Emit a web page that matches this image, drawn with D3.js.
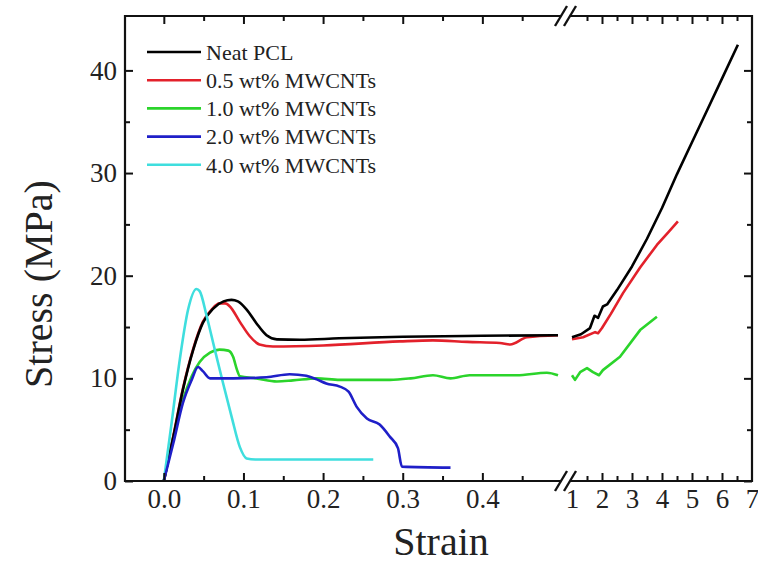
<!DOCTYPE html>
<html lang="en">
<head>
<meta charset="utf-8">
<script src="https://d3js.org/d3.v7.min.js"></script>
<style>
    body { margin: 0; background: #fff; }
    text { font-family: "Liberation Serif", "Times New Roman", serif; fill: #222; }
</style>
</head>
<body>
<div id="chart"></div>
<script>
    // series names and colours
    const names = ["Neat PCL", "0.5 wt% MWCNTs", "1.0 wt% MWCNTs", "2.0 wt% MWCNTs", "4.0 wt% MWCNTs"];
    const colors = ["#000000", "#e3212b", "#2bd42b", "#1f1fc8", "#3fdede"];

    // [strain, stress MPa] before the axis break
    const neatLow = [[0,0],[0.012,4.3],[0.024,8.9],[0.037,12.8],[0.049,15.4],[0.062,16.8],[0.075,17.5],[0.085,17.65],[0.093,17.5],[0.104,16.7],[0.116,15.4],[0.129,14.2],[0.142,13.8],[0.171,13.76],[0.22,13.9],[0.3,14.05],[0.4,14.15],[0.495,14.2]];
    const cnt05Low = [[0,0],[0.012,4.4],[0.024,9.0],[0.037,12.9],[0.049,15.5],[0.06,16.7],[0.07,17.3],[0.077,17.3],[0.083,17.0],[0.0955,15.5],[0.108,14.1],[0.12,13.3],[0.137,13.1],[0.2,13.2],[0.296,13.6],[0.338,13.7],[0.381,13.55],[0.422,13.45],[0.435,13.3],[0.456,14.0],[0.495,14.2]];
    const cnt10Low = [[0,0],[0.012,4.3],[0.024,7.9],[0.035,10.2],[0.045,11.6],[0.058,12.5],[0.07,12.8],[0.081,12.7],[0.087,12.1],[0.092,10.8],[0.0955,10.2],[0.116,10.0],[0.142,9.7],[0.162,9.8],[0.192,10.0],[0.221,9.85],[0.284,9.85],[0.31,10.0],[0.338,10.3],[0.36,10.0],[0.384,10.3],[0.401,10.3],[0.443,10.3],[0.481,10.55],[0.495,10.3]];
    const cnt20Low = [[0,0],[0.012,3.7],[0.024,7.6],[0.035,9.85],[0.043,11.1],[0.049,10.7],[0.058,10.0],[0.087,10.0],[0.129,10.1],[0.158,10.4],[0.179,10.25],[0.192,9.9],[0.204,9.5],[0.221,9.2],[0.232,8.7],[0.242,7.25],[0.255,6.1],[0.271,5.5],[0.284,4.3],[0.294,3.2],[0.299,1.4],[0.36,1.3]];
    const cnt40Low = [[0,0],[0.0097,5.6],[0.02,11.8],[0.0305,16.7],[0.041,18.7],[0.045,18.5],[0.054,16.0],[0.064,12.8],[0.0745,9.5],[0.085,6.3],[0.0955,3.3],[0.104,2.2],[0.115,2.1],[0.263,2.1]];

    // [strain, stress MPa] after the axis break
    const neatHigh = [[1.0,14.0],[1.3,14.3],[1.6,14.9],[1.75,16.1],[1.87,15.9],[2.03,17.0],[2.17,17.2],[2.5,18.6],[3.0,20.9],[3.5,23.6],[4.0,26.6],[4.5,29.9],[5.0,33.0],[5.5,36.1],[6.0,39.2],[6.53,42.5]];
    const cnt05High = [[1.0,13.8],[1.37,14.0],[1.77,14.5],[1.87,14.4],[2.0,14.9],[2.3,16.3],[2.7,18.3],[3.27,20.8],[3.83,23.0],[4.2,24.2],[4.53,25.3]];
    const cnt10High = [[1.0,10.3],[1.1,9.85],[1.27,10.6],[1.5,11.0],[1.7,10.6],[1.9,10.3],[2.03,10.8],[2.6,12.1],[3.27,14.7],[3.83,16.0]];

    const lowData = [neatLow, cnt05Low, cnt10Low, cnt20Low, cnt40Low];
    const highData = [neatHigh, cnt05High, cnt10High, [], []];

    // ticks
    const yMajor = [0, 10, 20, 30, 40];
    const yMinor = [5, 15, 25, 35];
    const xLowMajor = [0.0, 0.1, 0.2, 0.3, 0.4];
    const xLowMinor = [0.05, 0.15, 0.25, 0.35, 0.45];
    const xHighMajor = [1, 2, 3, 4, 5, 6, 7];
    const xHighMinor = [1.5, 2.5, 3.5, 4.5, 5.5, 6.5];

    const W = 758, H = 564;
    const mLeft = 125, mRight = 752, mTop = 16, mBottom = 481;
    const breakA = 562, breakB = 572;

    const svg = d3.select("#chart").append("svg")
        .attr("width", W).attr("height", H);

    const xLow = d3.scaleLinear().domain([-0.05, 0.5]).range([mLeft - 1, breakA]);
    const xHigh = d3.scaleLinear().domain([1, 7]).range([breakB, mRight]);
    const y = d3.scaleLinear().domain([0, 45.3]).range([mBottom, mTop]);

    // curves
    const lineLow = d3.line().x(d => xLow(d[0])).y(d => y(d[1])).curve(d3.curveMonotoneX);
    const lineHigh = d3.line().x(d => xHigh(d[0])).y(d => y(d[1]));

    const order = [2, 1, 0, 4, 3];
    order.forEach(i => {
        svg.append("path").attr("d", lineLow(lowData[i]))
            .attr("fill", "none").attr("stroke", colors[i]).attr("stroke-width", 2.6)
            .attr("stroke-linejoin", "round");
        if (highData[i].length) {
            svg.append("path").attr("d", lineHigh(highData[i]))
                .attr("fill", "none").attr("stroke", colors[i]).attr("stroke-width", 2.6)
                .attr("stroke-linejoin", "round");
        }
    });

    // ticks via d3 axes
    function ticks(axisFn, scale, values, size, tr, labels) {
        const g = svg.append("g").attr("transform", tr)
            .call(axisFn(scale).tickValues(values).tickSize(size).tickPadding(8)
                .tickFormat(labels ? labels : ""));
        g.select(".domain").remove();
        g.selectAll("line").attr("stroke", "#111").attr("stroke-width", 2);
        g.selectAll("text").attr("font-size", 27).attr("fill", "#222")
            .attr("font-family", "Liberation Serif, serif");
        return g;
    }

    ticks(d3.axisBottom, xLow, xLowMajor, -8, `translate(0,${mBottom})`, d3.format(".1f"));
    ticks(d3.axisBottom, xLow, xLowMinor, -5, `translate(0,${mBottom})`);
    ticks(d3.axisBottom, xHigh, xHighMajor, -8, `translate(0,${mBottom})`, d3.format("d"))
        .selectAll(".tick line").attr("display", d => (d === 1 || d === 7) ? "none" : null);
    ticks(d3.axisBottom, xHigh, xHighMinor, -5, `translate(0,${mBottom})`);

    ticks(d3.axisTop, xLow, xLowMajor, -8, `translate(0,${mTop})`);
    ticks(d3.axisTop, xLow, xLowMinor, -5, `translate(0,${mTop})`);
    ticks(d3.axisTop, xHigh, xHighMajor.filter(v => v > 1 && v < 7), -8, `translate(0,${mTop})`);
    ticks(d3.axisTop, xHigh, xHighMinor, -5, `translate(0,${mTop})`);

    ticks(d3.axisLeft, y, yMajor, -8, `translate(${mLeft},0)`, d3.format("d"));
    ticks(d3.axisLeft, y, yMinor, -5, `translate(${mLeft},0)`);
    ticks(d3.axisRight, y, yMajor, -8, `translate(${mRight},0)`);
    ticks(d3.axisRight, y, yMinor, -5, `translate(${mRight},0)`);

    // frame with break
    const frame = svg.append("g").attr("stroke", "#111").attr("stroke-width", 2.2).attr("fill", "none");
    frame.append("path").attr("d", `M${breakA - 1},${mTop}H${mLeft}V${mBottom}H${breakA - 1}`);
    frame.append("path").attr("d", `M${breakB - 2},${mTop}H${mRight}V${mBottom}H${breakB - 2}`);
    [mTop, mBottom].forEach(yy => {
        [breakA - 1, breakB - 2].forEach(xx => {
            frame.append("line")
                .attr("x1", xx - 6).attr("y1", yy + 10)
                .attr("x2", xx + 6).attr("y2", yy - 10)
                .attr("stroke-width", 2.4);
        });
    });

    // legend
    const legend = svg.append("g");
    names.forEach((n, i) => {
        const ly = 52 + i * 28.2;
        legend.append("line").attr("x1", 147).attr("x2", 201).attr("y1", ly).attr("y2", ly)
            .attr("stroke", colors[i]).attr("stroke-width", 2.6);
        legend.append("text").attr("x", 206).attr("y", ly).attr("dy", "0.35em")
            .attr("font-size", 22).text(n);
    });

    // axis titles
    svg.append("text").attr("x", 441).attr("y", 555).attr("text-anchor", "middle")
        .attr("font-size", 40).text("Strain");
    svg.append("text").attr("transform", "translate(52,284) rotate(-90)")
        .attr("text-anchor", "middle").attr("font-size", 40).text("Stress (MPa)");
</script>
</body>
</html>
